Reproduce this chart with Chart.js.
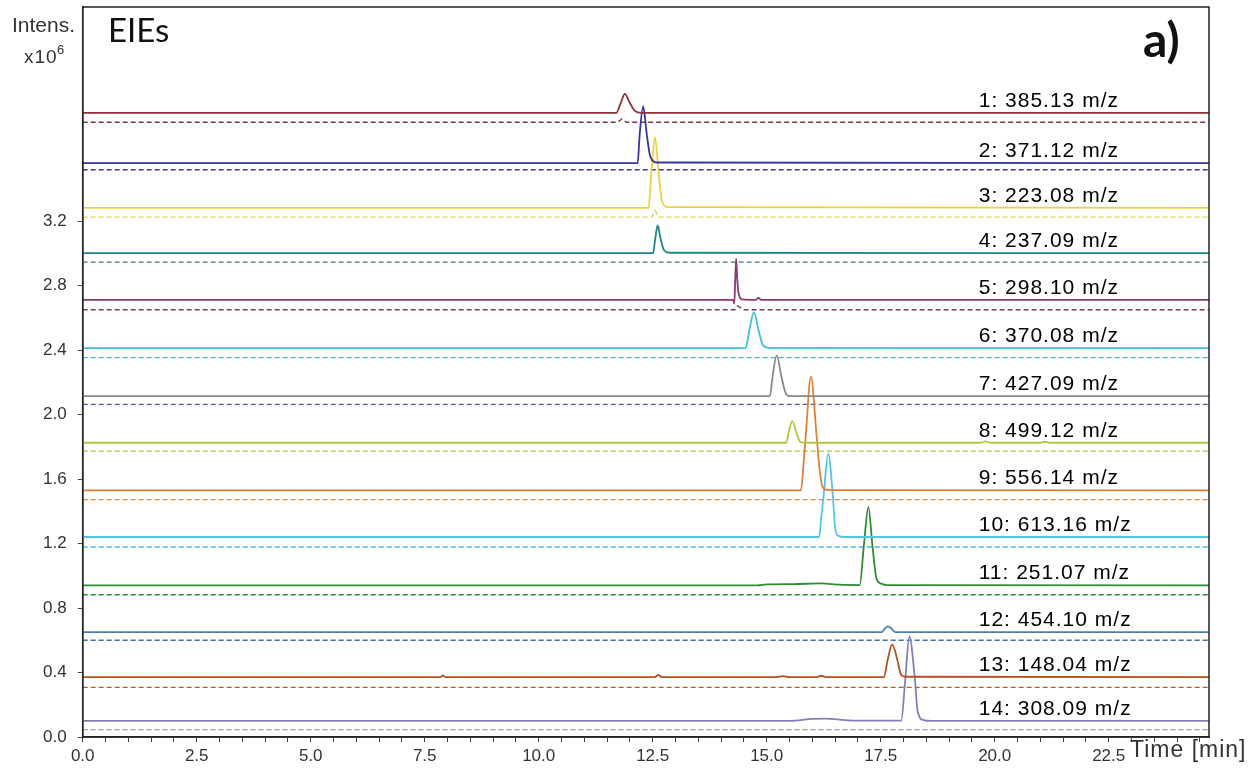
<!DOCTYPE html>
<html lang="en">
<head>
<meta charset="UTF-8">
<title>EIEs</title>
<script src="https://cdn.jsdelivr.net/npm/chart.js@4"></script>
<style>
  html, body { margin: 0; padding: 0; background: #fff; }
  #wrap { width: 1256px; height: 774px; }
</style>
</head>
<body>
<div id="wrap"><canvas id="eics" width="1256" height="774"></canvas></div>
<script>
// extracted ion chromatograms: [time (min), intensity (x10^6)]
const mzLabels = [
  '1: 385.13 m/z', '2: 371.12 m/z', '3: 223.08 m/z', '4: 237.09 m/z',
  '5: 298.10 m/z', '6: 370.08 m/z', '7: 427.09 m/z', '8: 499.12 m/z',
  '9: 556.14 m/z', '10: 613.16 m/z', '11: 251.07 m/z', '12: 454.10 m/z',
  '13: 148.04 m/z', '14: 308.09 m/z'
];

const eic1 = [[0,3.873],[11.70,3.873],[11.80,3.935],[11.89,3.991],[11.99,3.94],[12.11,3.885],[12.25,3.873],[24.7,3.873]];
const eic2 = [[0,3.561],[12.17,3.561],[12.215,3.74],[12.29,3.913],[12.37,3.74],[12.45,3.60],[12.60,3.565],[24.7,3.561]];
const eic3 = [[0,3.284],[12.41,3.284],[12.47,3.50],[12.55,3.722],[12.63,3.50],[12.71,3.32],[12.83,3.288],[24.7,3.284]];
const eic4 = [[0,3.003],[12.51,3.003],[12.555,3.09],[12.61,3.174],[12.675,3.09],[12.75,3.02],[12.86,3.005],[24.7,3.003]];
const eic5 = [[0,2.713],[14.26,2.713],[14.29,2.69],[14.31,2.84],[14.33,2.968],[14.355,2.84],[14.38,2.76],[14.46,2.716],[14.76,2.713],[14.82,2.725],[14.88,2.713],[24.7,2.713]];
const eic6 = [[0,2.413],[14.54,2.413],[14.62,2.525],[14.72,2.637],[14.82,2.525],[14.92,2.43],[15.04,2.415],[24.7,2.413]];
const eic7 = [[0,2.115],[15.07,2.115],[15.13,2.24],[15.22,2.368],[15.32,2.24],[15.43,2.125],[15.53,2.115],[24.7,2.115]];
const eic8 = [[0,1.826],[15.43,1.826],[15.48,1.89],[15.56,1.96],[15.65,1.89],[15.74,1.83],[15.86,1.826],[19.7,1.826],[19.8,1.835],[19.9,1.826],[21.0,1.826],[21.1,1.833],[21.2,1.826],[24.7,1.826]];
const eic9 = [[0,1.530],[15.75,1.530],[15.81,1.70],[15.86,1.884],[15.97,2.238],[16.09,1.884],[16.16,1.66],[16.23,1.55],[16.36,1.532],[24.7,1.530]];
const eic10 = [[0,1.241],[16.15,1.241],[16.20,1.37],[16.25,1.50],[16.35,1.758],[16.45,1.50],[16.50,1.30],[16.57,1.248],[16.72,1.241],[24.7,1.241]];
const eic11 = [[0,0.941],[14.8,0.941],[15.0,0.947],[15.6,0.949],[16.2,0.953],[16.6,0.945],[17.04,0.943],[17.13,1.184],[17.23,1.427],[17.32,1.184],[17.41,0.98],[17.51,0.952],[17.64,0.943],[24.7,0.941]];
const eic12 = [[0,0.651],[17.52,0.651],[17.60,0.675],[17.66,0.687],[17.73,0.675],[17.82,0.651],[24.7,0.651]];
const eic13 = [[0,0.372],[7.85,0.372],[7.90,0.382],[7.95,0.372],[12.55,0.372],[12.62,0.385],[12.70,0.372],[15.2,0.372],[15.35,0.378],[15.5,0.372],[16.1,0.372],[16.2,0.380],[16.3,0.372],[17.57,0.372],[17.65,0.474],[17.75,0.575],[17.87,0.474],[17.94,0.39],[18.06,0.374],[24.7,0.372]];
const eic14 = [[0,0.100],[15.5,0.100],[16.0,0.112],[16.3,0.114],[16.6,0.108],[17.0,0.101],[17.95,0.101],[18.04,0.36],[18.13,0.625],[18.25,0.36],[18.31,0.16],[18.44,0.105],[18.62,0.100],[24.7,0.100]];

const ref1 = [[0,3.815],[11.74,3.815],[11.82,3.836],[11.92,3.815],[24.7,3.815]];
const ref2 = [[0,3.520],[24.7,3.520]];
const ref3 = [[0,3.226],[12.48,3.226],[12.55,3.267],[12.63,3.226],[24.7,3.226]];
const ref4 = [[0,2.947],[24.7,2.947]];
const ref5 = [[0,2.651],[14.30,2.651],[14.36,2.675],[14.50,2.651],[24.7,2.651]];
const ref6 = [[0,2.354],[24.7,2.354]];
const ref7 = [[0,2.064],[24.7,2.064]];
const ref8 = [[0,1.774],[24.7,1.774]];
const ref9 = [[0,1.473],[24.7,1.473]];
const ref10 = [[0,1.179],[24.7,1.179]];
const ref11 = [[0,0.883],[24.7,0.883]];
const ref12 = [[0,0.600],[24.7,0.600]];
const ref13 = [[0,0.308],[24.7,0.308]];
const ref14 = [[0,0.046],[24.7,0.046]];

const eicTraces = [eic1, eic2, eic3, eic4, eic5, eic6, eic7, eic8, eic9, eic10, eic11, eic12, eic13, eic14];
const refTraces = [ref1, ref2, ref3, ref4, ref5, ref6, ref7, ref8, ref9, ref10, ref11, ref12, ref13, ref14];

const yTicks = [0.0, 0.4, 0.8, 1.2, 1.6, 2.0, 2.4, 2.8, 3.2];
const xLabelTicks = [0.0, 2.5, 5.0, 7.5, 10.0, 12.5, 15.0, 17.5, 20.0, 22.5];

const traceColors = [
  '#943038', '#3434a6', '#e8d43a', '#1f8787', '#8a3a6e', '#3cbfe0', '#8a8a8a',
  '#b0c93c', '#e07f35', '#4fc6e4', '#2f8c31', '#4f7fb0', '#b4521f', '#8080b6'
];
const refColors = [
  '#7a3a44', '#3a3a8e', '#e0d04a', '#3a8080', '#7a3a60', '#40b8d8', '#56568a',
  '#a8c040', '#e08a4a', '#48bcd8', '#2f8a31', '#4070b0', '#b0602a', '#a0a090'
];

const datasets = [];
refTraces.forEach((tr, i) => {
  datasets.push({
    data: tr.map(p => ({ x: p[0], y: p[1] })),
    borderColor: refColors[i],
    borderWidth: 1.4,
    borderDash: [5, 3],
    pointRadius: 0,
    order: 2
  });
});
eicTraces.forEach((tr, i) => {
  datasets.push({
    data: tr.map(p => ({ x: p[0], y: p[1] })),
    borderColor: traceColors[i],
    borderWidth: 1.8,
    cubicInterpolationMode: 'monotone',
    pointRadius: 0,
    order: 1
  });
});

const decorations = {
  id: 'decorations',
  afterDraw(chart) {
    const { ctx, chartArea: a, scales: { x, y } } = chart;
    ctx.save();
    ctx.strokeStyle = '#222';
    ctx.lineWidth = 1.5;
    ctx.strokeRect(a.left, a.top, a.right - a.left, a.bottom - a.top);

    // m/z labels sit just above each trace baseline
    ctx.fillStyle = '#000';
    ctx.font = '21px "Liberation Sans", Arial, sans-serif';
    ctx.letterSpacing = '1px';
    ctx.textAlign = 'left';
    ctx.textBaseline = 'alphabetic';
    eicTraces.forEach((tr, i) => {
      const base = tr[tr.length - 1][1];
      ctx.fillText(mzLabels[i], x.getPixelForValue(19.65), y.getPixelForValue(base) - 6);
    });
    ctx.letterSpacing = '0px';

    ctx.fillStyle = '#111';
    ctx.font = '33px Lato, "Open Sans", sans-serif';
    ctx.fillText('EIEs', 108, 42);
    ctx.font = 'bold 48px Lato, "Open Sans", sans-serif';
    ctx.fillText('a)', 1143, 57);

    ctx.fillStyle = '#333';
    ctx.font = '21px "Liberation Sans", Arial, sans-serif';
    ctx.fillText('Intens.', 12, 32);
    ctx.font = '19px "Liberation Sans", Arial, sans-serif';
    ctx.letterSpacing = '1px';
    ctx.fillText('x10', 24, 63);
    ctx.letterSpacing = '0px';
    ctx.font = '13px "Liberation Sans", Arial, sans-serif';
    ctx.fillText('6', 57, 54);

    ctx.font = '23px "Liberation Sans", Arial, sans-serif';
    ctx.letterSpacing = '1px';
    ctx.fillText('Time [min]', 1130, 757);
    ctx.restore();
  }
};

new Chart(document.getElementById('eics'), {
  type: 'line',
  data: { datasets },
  options: {
    responsive: false,
    animation: false,
    devicePixelRatio: 1,
    layout: { padding: { top: 7, right: 47, left: 0, bottom: 0 } },
    plugins: { legend: { display: false }, tooltip: { enabled: false } },
    scales: {
      x: {
        type: 'linear',
        min: 0,
        max: 24.7,
        afterFit(scale) { scale.height = 37; scale.paddingLeft = 0; scale.paddingRight = 0; },
        afterBuildTicks(scale) {
          const ticks = [];
          for (let v = 0; v <= 24.5 + 1e-9; v += 0.5) ticks.push({ value: Math.round(v * 10) / 10 });
          scale.ticks = ticks;
        },
        grid: { drawOnChartArea: false, drawTicks: true, tickLength: 5, color: '#444' },
        border: { display: true, color: '#222', width: 1.5 },
        ticks: {
          autoSkip: false,
          maxRotation: 0,
          padding: 4,
          color: '#333',
          font: { family: '"Liberation Sans", Arial, sans-serif', size: 17 },
          callback: v => xLabelTicks.some(t => Math.abs(t - v) < 1e-6) ? v.toFixed(1) : ''
        }
      },
      y: {
        type: 'linear',
        min: 0,
        max: 4.53,
        afterFit(scale) { scale.width = 82.7; scale.paddingTop = 0; scale.paddingBottom = 0; },
        afterBuildTicks(scale) { scale.ticks = yTicks.map(v => ({ value: v })); },
        grid: { drawOnChartArea: false, drawTicks: true, tickLength: 5, color: '#444' },
        border: { display: true, color: '#222', width: 1.5 },
        ticks: {
          padding: 11,
          color: '#333',
          font: { family: '"Liberation Sans", Arial, sans-serif', size: 17 },
          callback: v => v.toFixed(1)
        }
      }
    }
  },
  plugins: [decorations]
});
</script>
</body>
</html>
